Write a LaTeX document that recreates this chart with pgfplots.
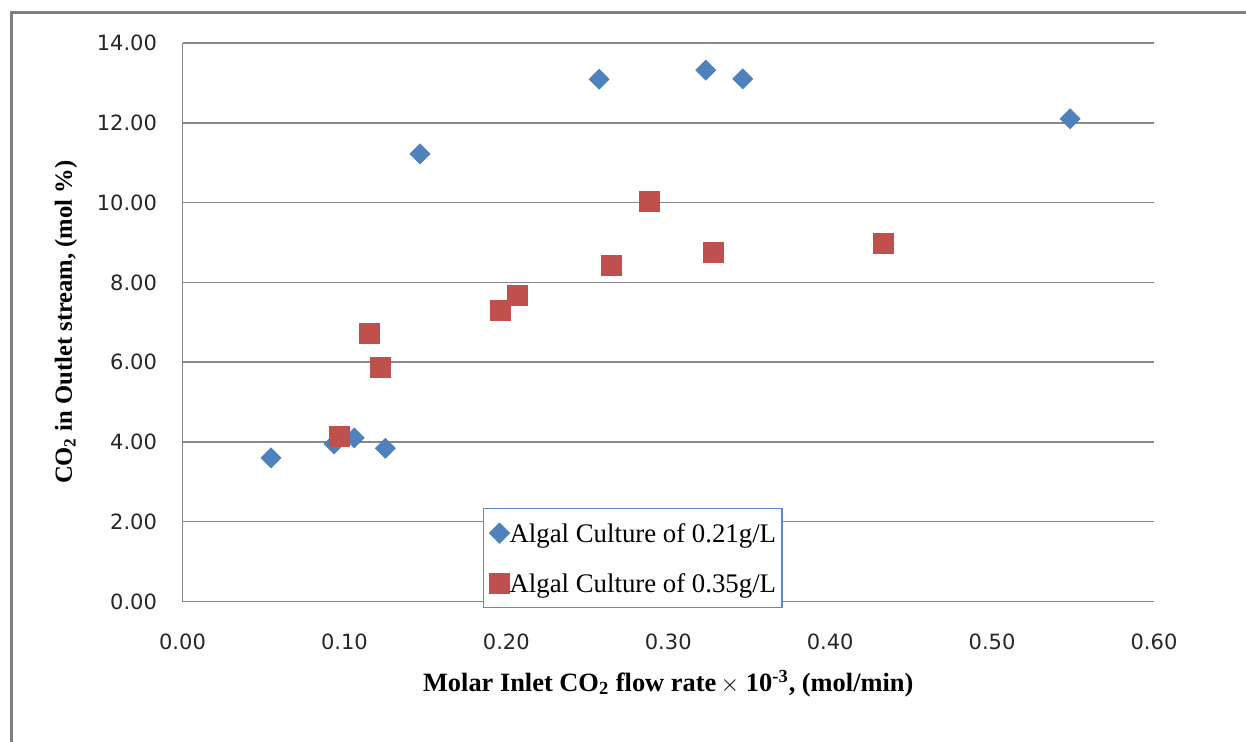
\documentclass[border=0pt]{standalone}
\usepackage{fontspec}
\setmainfont{Liberation Serif}
\newfontfamily\tickfont{DejaVu Sans}
\usepackage{pgfplots}
\pgfplotsset{compat=1.18}
\definecolor{xlblue}{HTML}{4F81BD}
\definecolor{xlred}{HTML}{C0504D}
\definecolor{gridgray}{HTML}{888888}
\definecolor{legblue}{HTML}{5B8AC6}

\begin{document}
\begin{tikzpicture}
% picture area: 1 px of the reference = 0.5pt
\useasboundingbox (-91.25pt,-69.75pt) rectangle (531.75pt,300.75pt);
\draw[gray, line width=1.5pt] (-85.25pt,-80pt) -- (-85.25pt,294.25pt) -- (540pt,294.25pt);
\begin{axis}[
    at={(0pt,0pt)}, anchor=south west,
    scale only axis,
    width=485.75pt, height=279.25pt,
    xmin=0, xmax=0.6,
    ymin=0, ymax=14,
    xtick={0,0.1,0.2,0.3,0.4,0.5,0.6},
    ytick={0,2,4,6,8,10,12,14},
    axis x line*=bottom,
    axis y line*=left,
    axis line style={gridgray, line width=0.75pt, -},
    ymajorgrids,
    grid style={gridgray, line width=0.75pt},
    major tick length=0pt,
    /pgf/number format/assume math mode=true,
    /pgf/number format/.cd, fixed, fixed zerofill, precision=2, /pgfplots/.cd,
    tick label style={font=\tickfont\fontsize{10.5pt}{12pt}\selectfont, text=black!85},
    xticklabel style={yshift=-12.75pt},
    yticklabel style={xshift=-9.25pt},
    xlabel={Molar Inlet CO\textsubscript{2} flow rate\,{\mdseries$\times$} 10\textsuperscript{-3}, (mol/min)},
    xlabel style={at={([yshift=-44.75pt]rel axis cs:0.5,0)}, anchor=base,
        font=\bfseries\fontsize{13.2pt}{16pt}\selectfont},
    ylabel={CO\textsubscript{2} in Outlet stream, (mol \%)},
    ylabel style={at={([xshift=-55.25pt]rel axis cs:0,0.5)}, anchor=base, rotate=0,
        font=\bfseries\fontsize{12.3pt}{15pt}\selectfont},
    legend cell align=left,
    legend image code/.code={\draw[mark repeat=1,#1] plot coordinates {(0pt,0pt)};},
    legend style={
        at={(rel axis cs:0.3093,0.1674)}, anchor=north west,
        draw=legblue, line width=0.6pt, fill=white,
        inner xsep=3pt, inner ysep=4.6pt, row sep=9.7pt,
        nodes={inner sep=0pt, text height=12.3pt, text depth=3pt},
        /tikz/every even column/.style={column sep=1.2pt},
        font=\fontsize{13.4pt}{15pt}\selectfont,
    },
]
\addplot[only marks, mark=square*, mark size=3.5pt, color=xlblue,
    mark options={rotate=45, fill=xlblue, draw=xlblue}] coordinates {
    (0.0547,3.60) (0.0936,3.95) (0.1061,4.10) (0.1253,3.84) (0.1467,11.22)
    (0.2573,13.09) (0.3232,13.32) (0.3460,13.10) (0.5482,12.10)
};
\addlegendentry{Algal Culture of 0.21g/L}
\addplot[only marks, mark=square*, mark size=5pt, color=xlred,
    mark options={fill=xlred, draw=xlred}] coordinates {
    (0.0969,4.14) (0.1152,6.71) (0.1222,5.86) (0.1965,7.30) (0.2066,7.67)
    (0.2647,8.42) (0.2883,10.04) (0.3279,8.75) (0.4329,8.97)
};
\addlegendentry{Algal Culture of 0.35g/L}
\end{axis}
\end{tikzpicture}
\end{document}
